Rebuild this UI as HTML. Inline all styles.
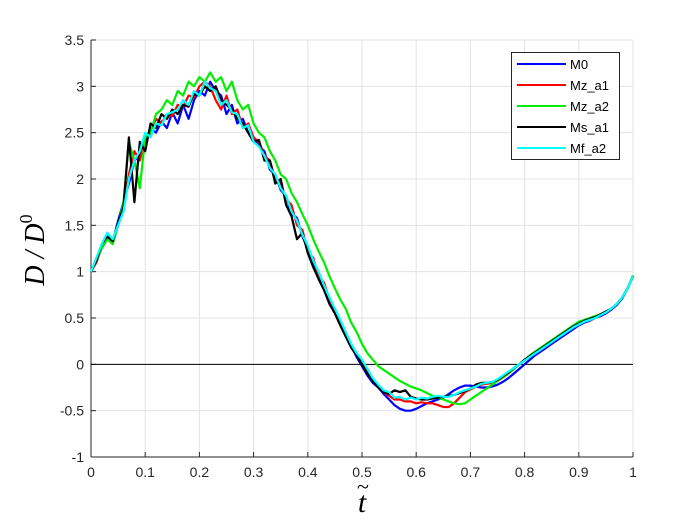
<!DOCTYPE html>
<html><head><meta charset="utf-8">
<style>
body{margin:0;background:#fff;}
svg{display:block;font-family:"Liberation Sans",Arial,sans-serif;}
</style></head>
<body>
<svg id="chart" width="700" height="525" viewBox="0 0 700 525" xmlns="http://www.w3.org/2000/svg">
<rect width="700" height="525" fill="#fff"/>
<g id="grid"></g>
<g id="axes"></g>
<g id="series"></g>
<text x="362" y="512" font-family="Liberation Serif,serif" font-style="italic" font-size="30" text-anchor="middle">t</text>
<text x="363" y="494" font-family="Liberation Serif,serif" font-size="22" text-anchor="middle">~</text>
<text transform="translate(44,250) rotate(-90)" font-family="Liberation Serif,serif" font-style="italic" font-size="28" text-anchor="middle">D / D<tspan font-style="normal" font-size="18" dy="-12">0</tspan></text>
<g id="legend"></g>
</svg>
<script>
const xTicks=[0,0.1,0.2,0.3,0.4,0.5,0.6,0.7,0.8,0.9,1];
const xTickLabels=["0","0.1","0.2","0.3","0.4","0.5","0.6","0.7","0.8","0.9","1"];
const yTicks=[-1,-0.5,0,0.5,1,1.5,2,2.5,3,3.5];
const yTickLabels=["-1","-0.5","0","0.5","1","1.5","2","2.5","3","3.5"];
const seriesNames=["M0","Mz_a1","Mz_a2","Ms_a1","Mf_a2"];
const seriesColors=["#0000ff","#ff0000","#00ee00","#000000","#00ffff"];
const tStart=0, tEnd=1;
const m0=[1.00,1.12,1.28,1.38,1.32,1.55,1.75,1.95,2.2,2.25,2.4,2.55,2.5,2.62,2.55,2.72,2.6,2.8,2.65,2.85,2.95,2.9,3.05,2.95,2.9,2.7,2.8,2.6,2.65,2.5,2.45,2.35,2.3,2.1,2.05,1.88,1.82,1.62,1.58,1.38,1.25,1.1,0.98,0.82,0.72,0.56,0.46,0.32,0.2,0.08,-0.02,-0.12,-0.2,-0.25,-0.32,-0.38,-0.44,-0.48,-0.5,-0.5,-0.48,-0.45,-0.42,-0.4,-0.38,-0.36,-0.32,-0.28,-0.25,-0.23,-0.23,-0.24,-0.25,-0.25,-0.24,-0.22,-0.19,-0.15,-0.1,-0.05,0.0,0.05,0.1,0.14,0.18,0.22,0.26,0.3,0.34,0.38,0.42,0.45,0.47,0.5,0.52,0.55,0.59,0.64,0.71,0.82,0.95];
const mz1=[1.00,1.1,1.26,1.35,1.3,1.5,1.7,2.05,2.3,2.2,2.45,2.48,2.65,2.6,2.7,2.68,2.8,2.78,2.9,2.88,3.0,3.05,3.0,2.85,2.75,2.9,2.7,2.75,2.55,2.6,2.45,2.4,2.25,2.2,2.0,1.95,1.78,1.72,1.5,1.45,1.22,1.15,0.95,0.88,0.7,0.6,0.45,0.35,0.2,0.12,0.0,-0.08,-0.18,-0.24,-0.3,-0.34,-0.38,-0.38,-0.4,-0.4,-0.42,-0.41,-0.42,-0.42,-0.44,-0.46,-0.46,-0.42,-0.36,-0.3,-0.27,-0.24,-0.22,-0.21,-0.2,-0.18,-0.14,-0.1,-0.05,0.0,0.04,0.08,0.12,0.16,0.2,0.24,0.28,0.32,0.36,0.4,0.43,0.46,0.48,0.5,0.53,0.56,0.6,0.65,0.72,0.82,0.95];
const mz2=[1.00,1.12,1.25,1.35,1.3,1.5,1.75,2.4,2.2,1.9,2.45,2.5,2.7,2.75,2.85,2.8,2.95,2.9,3.05,3.0,3.1,3.05,3.15,3.05,3.1,2.95,3.05,2.85,2.75,2.8,2.6,2.5,2.45,2.3,2.2,2.05,2.0,1.85,1.75,1.62,1.5,1.35,1.22,1.1,0.95,0.82,0.7,0.6,0.45,0.35,0.22,0.12,0.05,-0.02,-0.06,-0.1,-0.14,-0.18,-0.21,-0.24,-0.26,-0.28,-0.31,-0.34,-0.36,-0.38,-0.4,-0.42,-0.43,-0.42,-0.38,-0.34,-0.3,-0.26,-0.22,-0.18,-0.14,-0.1,-0.05,0.0,0.05,0.1,0.14,0.18,0.22,0.26,0.3,0.34,0.38,0.42,0.46,0.48,0.5,0.52,0.54,0.57,0.6,0.65,0.72,0.82,0.96];
const ms1=[1.00,1.12,1.3,1.38,1.33,1.52,1.7,2.45,1.75,2.4,2.3,2.6,2.55,2.7,2.65,2.75,2.7,2.8,2.78,2.92,2.9,3.0,2.95,3.0,2.85,2.8,2.75,2.65,2.6,2.5,2.4,2.42,2.2,2.2,1.95,2.0,1.72,1.6,1.35,1.42,1.2,1.05,0.92,0.8,0.65,0.55,0.42,0.3,0.18,0.1,0.0,-0.1,-0.18,-0.25,-0.3,-0.32,-0.28,-0.3,-0.28,-0.35,-0.37,-0.38,-0.38,-0.37,-0.36,-0.35,-0.34,-0.33,-0.31,-0.29,-0.26,-0.22,-0.2,-0.2,-0.19,-0.17,-0.13,-0.09,-0.04,0.0,0.05,0.09,0.13,0.17,0.21,0.25,0.29,0.33,0.37,0.41,0.44,0.47,0.49,0.51,0.54,0.57,0.6,0.65,0.72,0.82,0.95];
const mf2=[1.00,1.15,1.3,1.42,1.35,1.5,1.65,2.0,2.2,2.3,2.5,2.45,2.6,2.58,2.7,2.72,2.75,2.85,2.8,2.95,2.9,3.05,2.98,2.95,2.8,2.85,2.72,2.7,2.55,2.58,2.4,2.35,2.25,2.12,2.05,1.9,1.82,1.65,1.55,1.4,1.28,1.12,1.0,0.85,0.72,0.6,0.48,0.35,0.22,0.12,0.05,-0.05,-0.15,-0.22,-0.28,-0.3,-0.36,-0.35,-0.38,-0.36,-0.38,-0.36,-0.37,-0.35,-0.34,-0.35,-0.35,-0.33,-0.3,-0.28,-0.26,-0.24,-0.21,-0.2,-0.19,-0.16,-0.12,-0.08,-0.04,0.0,0.04,0.08,0.12,0.16,0.2,0.24,0.28,0.32,0.36,0.4,0.43,0.46,0.48,0.5,0.53,0.56,0.6,0.65,0.72,0.82,0.95];
const allSeries=[m0,mz1,mz2,ms1,mf2];

const L=91,R=633,T=40,B=457;
const xs=v=>L+(v-0)/(1-0)*(R-L);
const ys=v=>B-(v+1)/(3.5+1)*(B-T);
const NS="http://www.w3.org/2000/svg";
function mk(tag,attrs,parent){const e=document.createElementNS(NS,tag);for(const k in attrs)e.setAttribute(k,attrs[k]);parent.appendChild(e);return e;}
const grid=document.getElementById('grid'),axes=document.getElementById('axes'),ser=document.getElementById('series'),leg=document.getElementById('legend');
xTicks.forEach((t,i)=>{
 const g=mk('line',{x1:xs(t),x2:xs(t),y1:T,y2:B,stroke:'#e3e3e3','stroke-width':1},grid);
 
 
 const tk=mk('line',{x1:xs(t),x2:xs(t),y1:B,y2:B-5,stroke:'#262626'},axes);
 
 
 const tx=mk('text',{x:xs(t),y:B+20,'font-size':14,'text-anchor':'middle',fill:'#262626'},axes);
 tx.textContent=xTickLabels[i];
 
 
});
yTicks.forEach((v,i)=>{
 const g=mk('line',{x1:L,x2:R,y1:ys(v),y2:ys(v),stroke:'#e3e3e3','stroke-width':1},grid);
 
 
 const tk=mk('line',{x1:L,x2:L+5,y1:ys(v),y2:ys(v),stroke:'#262626'},axes);
 
 
 const tx=mk('text',{x:L-7,y:ys(v)+5,'font-size':14,'text-anchor':'end',fill:'#262626'},axes);
 tx.textContent=yTickLabels[i];
 
 
});
const xa=mk('line',{x1:L,x2:R,y1:B,y2:B,stroke:'#262626'},axes);


const ya=mk('line',{x1:L,x2:L,y1:T,y2:B,stroke:'#262626'},axes);


const zl=mk('line',{x1:L,x2:R,y1:ys(0),y2:ys(0),stroke:'#000','stroke-width':1},axes);


allSeries.forEach((s,k)=>{
 const n=s.length-1;
 const d=s.map((v,i)=>(i?'L':'M')+xs(tStart+(tEnd-tStart)*i/n).toFixed(1)+','+ys(v).toFixed(1)).join('');
 const p=mk('path',{d:d,fill:'none',stroke:seriesColors[k],'stroke-width':2.2,'stroke-linejoin':'round'},ser);
 
 
});
const lb=mk('rect',{x:511.5,y:52.5,width:108,height:107,fill:'#fff',stroke:'#262626','stroke-width':1},leg);


seriesNames.forEach((n,k)=>{
 const yy=64+k*21;
 const ln=mk('line',{x1:517,x2:566,y1:yy,y2:yy,stroke:seriesColors[k],'stroke-width':2},leg);
 
 
 const tx=mk('text',{x:570,y:yy+5,'font-size':13,fill:'#000'},leg);
 tx.textContent=n;
 
 
});
</script>
</body></html>
